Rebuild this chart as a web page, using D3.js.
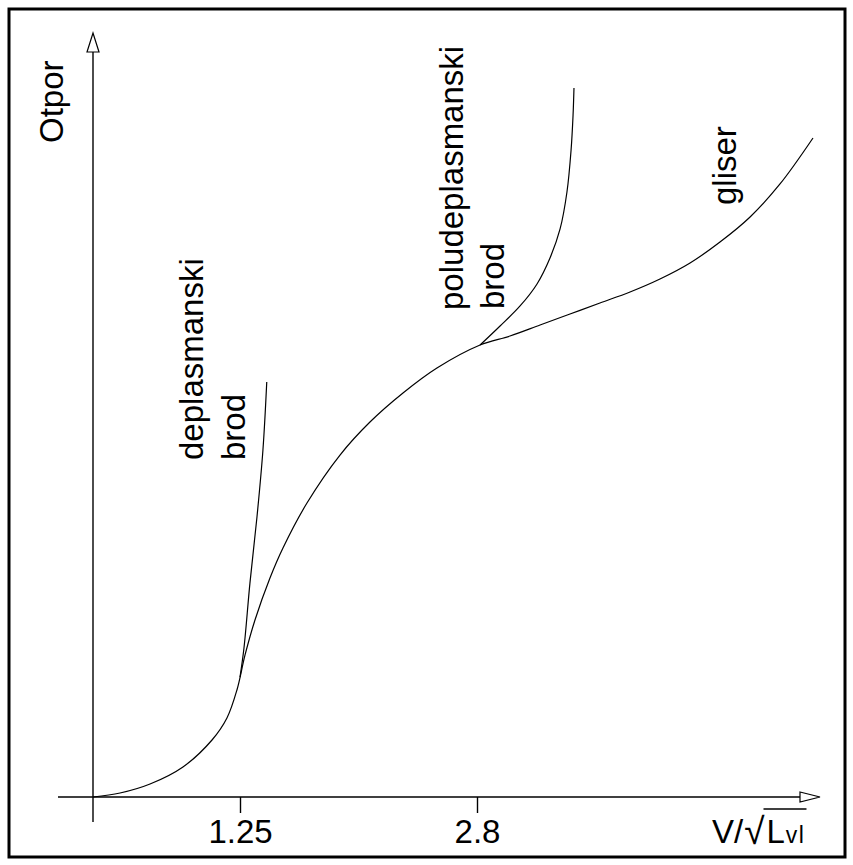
<!DOCTYPE html>
<html>
<head>
<meta charset="utf-8">
<script src="https://cdn.jsdelivr.net/npm/d3@7"></script>
<style>
  body { margin: 0; background: #fff; }
  svg text { font-family: "Liberation Sans", Arial, sans-serif; fill: #000; }
</style>
</head>
<body>
<div id="chart"></div>
<script>
// DATA
const xTicks = [1.25, 2.8];
const xTickLabels = ["1.25", "2.8"];

// main curve (gliser)
const mainX = [0, 0.23, 0.485, 0.765, 1.012, 1.139, 1.224, 1.283, 1.348, 1.446, 1.531, 1.688, 1.904, 2.10, 2.316, 2.538, 2.82, 3.016, 3.213, 3.409, 3.605, 3.802, 3.998, 4.195, 4.391, 4.588, 4.784, 5.0];
const mainY = [0, 0.52, 1.70, 3.93, 7.46, 10.34, 14.01, 18.59, 23.17, 28.66, 32.59, 38.48, 44.76, 49.08, 52.88, 56.15, 59.16, 60.34, 61.78, 63.22, 64.66, 66.10, 67.80, 69.90, 72.64, 75.92, 80.24, 86.26];

// deplasmanski brod branch
const deplX = [1.25, 1.276, 1.315, 1.361, 1.40, 1.425];
const deplY = [15.7, 19.5, 28.0, 36.65, 45.42, 54.32];

// poludeplasmanski brod branch
const poluX = [2.82, 2.951, 3.082, 3.193, 3.278, 3.344, 3.389, 3.416, 3.429, 3.435];
const poluY = [59.16, 61.65, 64.27, 67.15, 70.55, 74.35, 79.19, 84.69, 89.27, 92.80];

const w = 853;
const h = 865;
const fontSize = 33;

// SCALES (schematic axis, ticks not evenly spaced)
const xScale = d3.scaleLinear()
  .domain([0, 1.25, 2.8, 5])
  .range([93, 240, 477, 813]);

const yScale = d3.scaleLinear()
  .domain([0, 100])
  .range([797, 33]);

const svg = d3.select("#chart")
  .append("svg")
  .attr("width", w)
  .attr("height", h);

// frame
svg.append("rect")
  .attr("x", 9).attr("y", 9)
  .attr("width", 836).attr("height", 848)
  .attr("fill", "none")
  .attr("stroke", "#000")
  .attr("stroke-width", 3);

// AXES
const x0 = xScale(0);
const y0 = yScale(0);

svg.append("line")
  .attr("x1", 58).attr("y1", y0)
  .attr("x2", 800).attr("y2", y0)
  .attr("stroke", "#000").attr("stroke-width", 1.4);

svg.append("line")
  .attr("x1", x0).attr("y1", 822)
  .attr("x2", x0).attr("y2", 52)
  .attr("stroke", "#000").attr("stroke-width", 1.4);

// hollow arrow heads
svg.append("path")
  .attr("d", `M800,${y0 - 5} L820,${y0} L800,${y0 + 5} Z`)
  .attr("fill", "#fff").attr("stroke", "#000").attr("stroke-width", 1.2);

svg.append("path")
  .attr("d", `M${x0 - 6},52 L${x0},33 L${x0 + 6},52 Z`)
  .attr("fill", "#fff").attr("stroke", "#000").attr("stroke-width", 1.2);

const xAxis = d3.axisBottom(xScale)
  .tickValues(xTicks)
  .tickSize(16)
  .tickFormat((d, i) => xTickLabels[i]);

const gx = svg.append("g")
  .attr("transform", "translate(0," + y0 + ")")
  .call(xAxis);
gx.select(".domain").remove();
gx.selectAll(".tick line").attr("stroke", "#000").attr("stroke-width", 1.4);
gx.selectAll(".tick text")
  .attr("y", 46)
  .attr("dy", 0)
  .style("font-size", fontSize + "px")
  .style("font-family", "'Liberation Sans', Arial, sans-serif")
  .attr("fill", "#000");

// CURVES
const line = d3.line()
  .x((d) => xScale(d[0]))
  .y((d) => yScale(d[1]))
  .curve(d3.curveCatmullRom.alpha(0.5));

const series = [
  d3.zip(mainX, mainY),
  d3.zip(deplX, deplY),
  d3.zip(poluX, poluY)
];

svg.selectAll(".curve")
  .data(series)
  .enter()
  .append("path")
  .attr("class", "curve")
  .attr("d", line)
  .attr("fill", "none")
  .attr("stroke", "#000")
  .attr("stroke-width", 1.2);

// LABELS (rotated)
function vText(x, y, txt) {
  svg.append("text")
    .attr("transform", "translate(" + x + "," + y + ") rotate(-90)")
    .style("font-size", fontSize + "px")
    .text(txt);
}

vText(63, 143, "Otpor");
vText(203, 460, "deplasmanski");
vText(245, 460, "brod");
vText(463, 310, "poludeplasmanski");
vText(504, 309, "brod");
vText(736, 205, "gliser");

// x axis title V/sqrt(Lvl)
const base = 843;
const t1 = svg.append("text")
  .attr("x", 712).attr("y", base)
  .style("font-size", fontSize + "px")
  .text("V/");
const w1 = t1.node().getComputedTextLength();
const t2 = svg.append("text")
  .attr("x", 712 + w1 + 1).attr("y", base + 1)
  .style("font-size", "37px")
  .text("\u221A");
const w2 = t2.node().getComputedTextLength();
const t3 = svg.append("text")
  .attr("x", 712 + w1 + w2 + 3).attr("y", base)
  .style("font-size", fontSize + "px")
  .text("L");
const w3 = t3.node().getComputedTextLength();
const t4 = svg.append("text")
  .attr("x", 712 + w1 + w2 + w3 + 4).attr("y", base)
  .style("font-size", "23px")
  .style("letter-spacing", "1.5px")
  .text("vl");
const w4 = t4.node().getComputedTextLength();

svg.append("line")
  .attr("x1", 712 + w1 + w2).attr("y1", 809)
  .attr("x2", 712 + w1 + w2 + w3 + w4 + 5).attr("y2", 809)
  .attr("stroke", "#000").attr("stroke-width", 1.6);
</script>
</body>
</html>
